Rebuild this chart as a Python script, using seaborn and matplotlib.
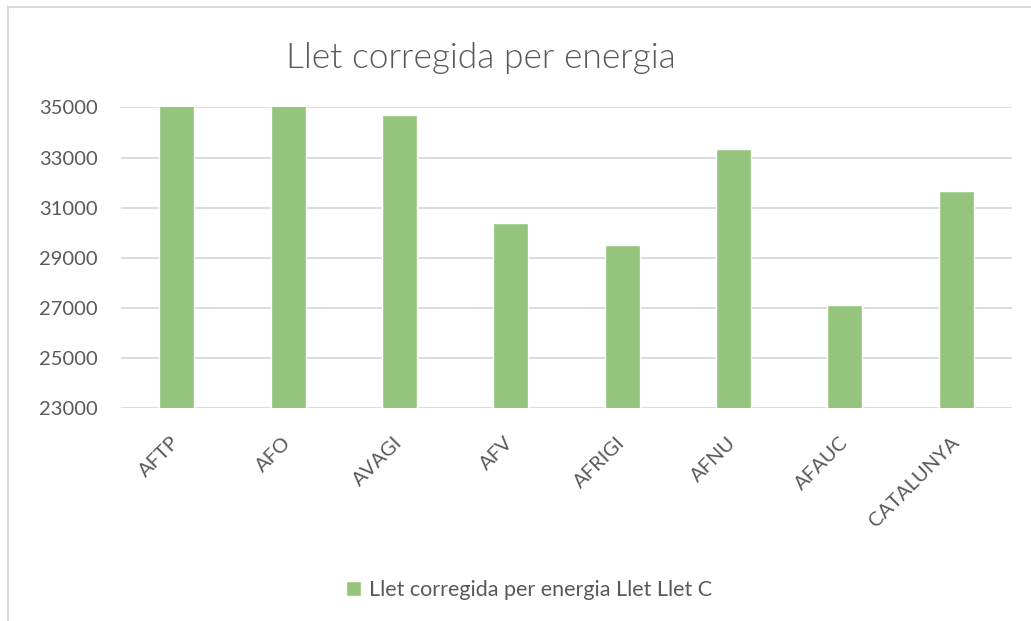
import pandas as pd
import seaborn as sns
import matplotlib.pyplot as plt
from matplotlib.patches import Rectangle

categories = ['AFTP', 'AFO', 'AVAGI', 'AFV', 'AFRIGI', 'AFNU', 'AFAUC', 'CATALUNYA']
# AFTP and AFO run past the top of the axis in the original (clipped at 35000)
values = [36500, 36500, 34700, 30400, 29500, 33350, 27100, 31650]
y_ticks = [23000, 25000, 27000, 29000, 31000, 33000, 35000]
series_name = 'Llet corregida per energia Llet Llet C'

df = pd.DataFrame({'Categoria': categories, 'Valor': values})

sns.set_theme(style='white')
plt.rcParams['font.family'] = ['Lato', 'DejaVu Sans']

gray = '#595959'
green = '#95C47C'

fig = plt.figure(figsize=(10.31, 6.21), dpi=100)
ax = fig.add_axes([0.1174, 0.343, 0.8641, 0.484])

sns.barplot(data=df, x='Categoria', y='Valor', color=green, saturation=1,
            width=0.314, label=series_name, ax=ax, zorder=3)

ax.set_ylim(23000, 35000)
ax.set_yticks(y_ticks)
ax.set_xlim(-0.5, len(categories) - 0.5)
ax.yaxis.grid(True, color='#d9d9d9', linewidth=1.3, zorder=0)
ax.set_axisbelow(True)
for s in ax.spines.values():
    s.set_visible(False)
ax.set_xlabel('')
ax.set_ylabel('')
ax.tick_params(axis='y', length=0, pad=17, labelsize=14.5, labelcolor=gray)
ax.tick_params(axis='x', length=0, pad=23, labelsize=14.5, labelcolor=gray)
plt.setp(ax.get_xticklabels(), rotation=45, ha='right', va='center',
         rotation_mode='anchor')

fig.text(481 / 1031, 1 - 58 / 621, 'Llet corregida per energia', ha='center',
         va='center', fontsize=25.5, color=gray, fontweight=300)

ax.legend(loc='center', bbox_to_anchor=(529 / 1031, 1 - 590 / 621),
          bbox_transform=fig.transFigure, frameon=False, fontsize=15.5,
          labelcolor=gray, handlelength=0.7, handleheight=0.7,
          handletextpad=0.35)

# light chart border like the spreadsheet frame
fig.patches.append(Rectangle((8 / 1031, -0.1), 1.2, 1 - 7 / 621 + 0.1,
                             transform=fig.transFigure, fill=False,
                             edgecolor='#d9d9d9', linewidth=1.5))

fig.savefig('out.png', dpi=100)
